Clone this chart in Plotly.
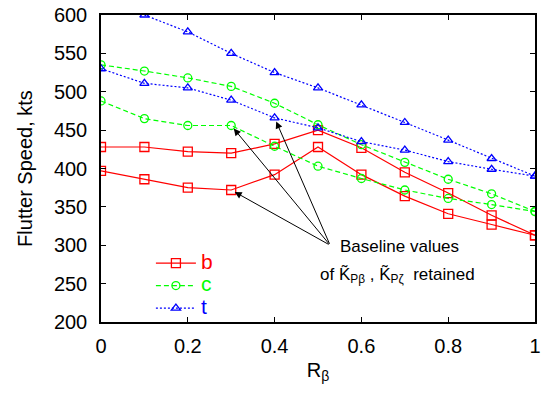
import plotly.graph_objects as go

# ---- data ----
r_beta = [0.0, 0.1, 0.2, 0.3, 0.4, 0.5, 0.6, 0.7, 0.8, 0.9, 1.0]

b_upper = [428, 428, 422, 420, 432, 450, 427, 395, 368, 339, 313]
b_lower = [397, 386, 375, 372, 392, 428, 392, 364, 341, 327, 313]

c_upper = [535, 527, 518, 507, 485, 457, 431, 408, 386, 367, 344]
c_lower = [488, 465, 456, 456, 429, 403, 387, 372, 361, 353, 344]

t_upper = [None, 600, 578, 550, 525, 505, 483, 460, 437, 413, 390]
t_lower = [530, 511, 505, 489, 466, 453, 435, 424, 409, 399, 390]

series_names = ["b", "c", "t"]
y_ticks = [200, 250, 300, 350, 400, 450, 500, 550, 600]
x_ticks = [0, 0.2, 0.4, 0.6, 0.8, 1.0]
x_ticklabels = ["0", "0.2", "0.4", "0.6", "0.8", "1"]

RED = "#ff0000"
GREEN = "#00ff00"
BLUE = "#0000ff"
FONT = "Liberation Sans, Arial, sans-serif"

fig = go.Figure()

styles = {
    "b": dict(color=RED, dash="solid", symbol="square-open", size=9),
    "c": dict(color=GREEN, dash="5px,3px", symbol="circle-open", size=8),
    "t": dict(color=BLUE, dash="2px,2px", symbol="triangle-up-open", size=8),
}
data = {"b": (b_upper, b_lower), "c": (c_upper, c_lower), "t": (t_upper, t_lower)}

for name in series_names:
    st = styles[name]
    for i, ys in enumerate(data[name]):
        fig.add_trace(go.Scatter(
            x=r_beta, y=ys, mode="lines+markers",
            name=f"<span style='color:{st['color']};font-size:21px'>{name}</span>",
            legendgroup=name, showlegend=(i == 0),
            line=dict(color=st["color"], width=1.2, dash=st["dash"]),
            marker=dict(symbol=st["symbol"], size=st["size"],
                        color=st["color"], line=dict(color=st["color"], width=1.3)),
        ))

# arrows from the label toward the baseline points
tail_x, tail_y = 0.528, 300
targets = [(r_beta[3], c_lower[3]), (r_beta[4], t_lower[4]), (r_beta[3], b_lower[3])]
for tx, ty in targets:
    fig.add_annotation(x=tx, y=ty, ax=tail_x, ay=tail_y, xref="x", yref="y",
                       axref="x", ayref="y", text="", showarrow=True,
                       arrowhead=2, arrowsize=1.4, arrowwidth=1, arrowcolor="black",
                       standoff=4)

fig.add_annotation(x=0.687, y=299, xref="x", yref="y", text="Baseline values",
                   showarrow=False, font=dict(family=FONT, size=17, color="black"),
                   xanchor="center", yanchor="middle")
fig.add_annotation(x=0.684, y=261, xref="x", yref="y",
                   text="of K\u0303<sub>P\u03b2</sub> , K\u0303<sub>P\u03b6</sub>  retained",
                   showarrow=False, font=dict(family=FONT, size=17, color="black"),
                   xanchor="center", yanchor="middle")

axis_common = dict(
    showline=True, linecolor="black", linewidth=1.5, mirror="ticks",
    ticks="inside", ticklen=5, tickwidth=1, tickcolor="black",
    showgrid=False, zeroline=False,
    tickfont=dict(family=FONT, size=20, color="black"),
)

fig.update_xaxes(range=[0, 1], tickvals=x_ticks, ticktext=x_ticklabels,
                 title=dict(text="R<sub>\u03b2</sub>", font=dict(family=FONT, size=20, color="black"),
                            standoff=7),
                 ticklabelstandoff=5, **axis_common)
fig.update_yaxes(range=[200, 600], tickvals=y_ticks,
                 title=dict(text="Flutter Speed, kts", font=dict(family=FONT, size=20, color="black"),
                            standoff=16),
                 ticklabelstandoff=8, **axis_common)

fig.update_layout(
    width=544, height=394,
    margin=dict(l=101, r=9, t=15, b=72, autoexpand=False),
    paper_bgcolor="white", plot_bgcolor="white",
    font=dict(family=FONT, color="black"),
    legend=dict(x=0.115, y=0.245, xanchor="left", yanchor="top",
                bgcolor="rgba(0,0,0,0)", borderwidth=0,
                font=dict(family=FONT, size=15), itemwidth=40, tracegroupgap=0),
)

fig.write_html("out.html")
